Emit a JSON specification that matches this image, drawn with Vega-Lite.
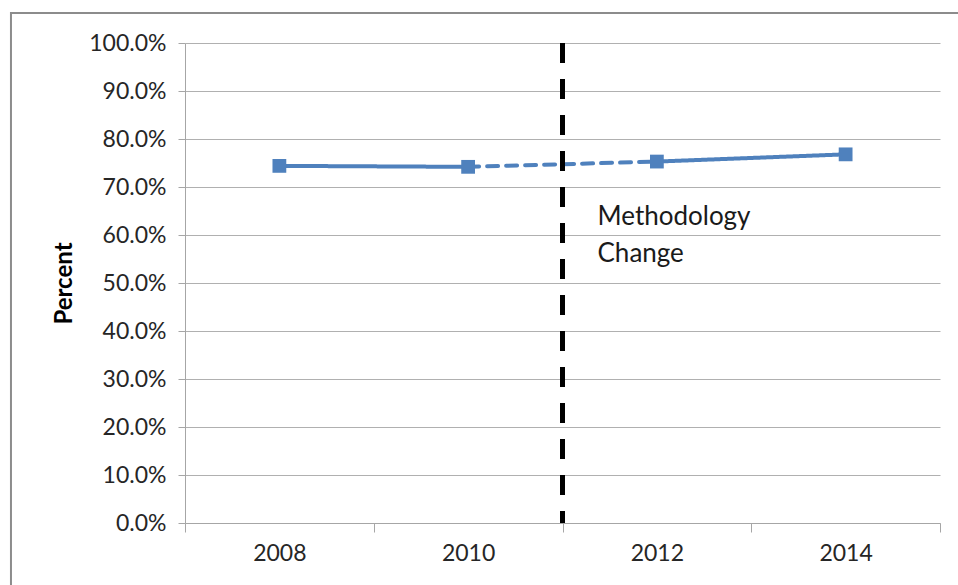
{
  "$schema": "https://vega.github.io/schema/vega-lite/v6.json",
  "autosize": {"type": "none"},
  "width": 755,
  "height": 480,
  "padding": {"left": 185, "top": 43, "right": 18, "bottom": 62},
  "background": "white",
  "datasets": {
    "points": [
      {"year": "2008", "value": 0.744},
      {"year": "2010", "value": 0.742},
      {"year": "2012", "value": 0.753},
      {"year": "2014", "value": 0.768}
    ],
    "segments": [
      {"year": "2008", "value": 0.744, "segment": "before"},
      {"year": "2010", "value": 0.742, "segment": "before"},
      {"year": "2010", "value": 0.742, "segment": "across"},
      {"year": "2012", "value": 0.753, "segment": "across"},
      {"year": "2012", "value": 0.753, "segment": "after"},
      {"year": "2014", "value": 0.768, "segment": "after"}
    ]
  },
  "layer": [
    {
      "layer": [
        {
          "data": {"name": "segments"},
          "mark": {"type": "line", "color": "#4F81BD", "strokeWidth": 4, "strokeCap": "round"},
          "encoding": {
            "x": {
              "field": "year",
              "type": "nominal",
              "scale": {"paddingInner": 0, "paddingOuter": 0},
              "axis": {
                "title": null,
                "labelAngle": 0,
                "tickBand": "extent",
                "tickSize": 9,
                "labelPadding": 10,
                "labelFontSize": 23,
                "domainColor": "#A6A6A6",
                "tickColor": "#A6A6A6",
                "grid": false
              }
            },
            "y": {
              "field": "value",
              "type": "quantitative",
              "scale": {"domain": [0, 1]},
              "axis": {
                "title": "Percent",
                "values": [0, 0.1, 0.2, 0.3, 0.4, 0.5, 0.6, 0.7, 0.8, 0.9, 1.0],
                "format": ".1%",
                "tickSize": 7,
                "labelPadding": 12,
                "labelFontSize": 23,
                "titleFontSize": 24,
                "titleFontWeight": "bold",
                "titlePadding": 12,
                "titleColor": "#000000",
                "domainColor": "#A6A6A6",
                "tickColor": "#A6A6A6",
                "gridColor": "#B0B0B0",
                "grid": true
              }
            },
            "detail": {"field": "segment"},
            "strokeDash": {
              "field": "segment",
              "type": "nominal",
              "scale": {"domain": ["before", "across", "after"], "range": [[1, 0], [11, 8], [1, 0]]},
              "legend": null
            }
          }
        },
        {
          "data": {"name": "points"},
          "mark": {"type": "square", "color": "#4F81BD", "size": 190, "opacity": 1, "filled": true},
          "encoding": {
            "x": {"field": "year", "type": "nominal"},
            "y": {"field": "value", "type": "quantitative"}
          }
        },
        {
          "data": {"values": [{"year": "2012", "note": "Methodology change"}]},
          "mark": {"type": "rule", "color": "#000000", "strokeWidth": 5, "strokeDash": [20, 16]},
          "encoding": {
            "x": {"field": "year", "type": "nominal", "bandPosition": 0}
          }
        },
        {
          "data": {"values": [{"year": "2012", "value": 0.665, "label": ["Methodology", "Change"]}]},
          "mark": {"type": "text", "align": "left", "baseline": "top", "dx": 35, "fontSize": 26, "lineHeight": 37, "font": "Lato", "color": "#1A1A1A"},
          "encoding": {
            "x": {"field": "year", "type": "nominal", "bandPosition": 0},
            "y": {"field": "value", "type": "quantitative"},
            "text": {"field": "label"}
          }
        }
      ]
    },
    {
      "data": {"values": [{"left": -0.2305, "right": 1.1}]},
      "mark": {"type": "rect", "fill": null, "stroke": "#8C8C8C", "strokeWidth": 2, "clip": false},
      "encoding": {
        "x": {"field": "left", "type": "quantitative", "scale": {"domain": [0, 1], "zero": false, "nice": false}, "axis": null},
        "x2": {"field": "right"},
        "y": {"datum": 1.0625, "type": "quantitative"},
        "y2": {"datum": -0.3}
      }
    }
  ],
  "resolve": {"scale": {"x": "independent"}, "axis": {"x": "independent"}},
  "config": {
    "font": "Lato",
    "view": {"stroke": null},
    "axis": {"labelColor": "#262626", "labelFont": "Lato", "titleFont": "Lato"}
  }
}
